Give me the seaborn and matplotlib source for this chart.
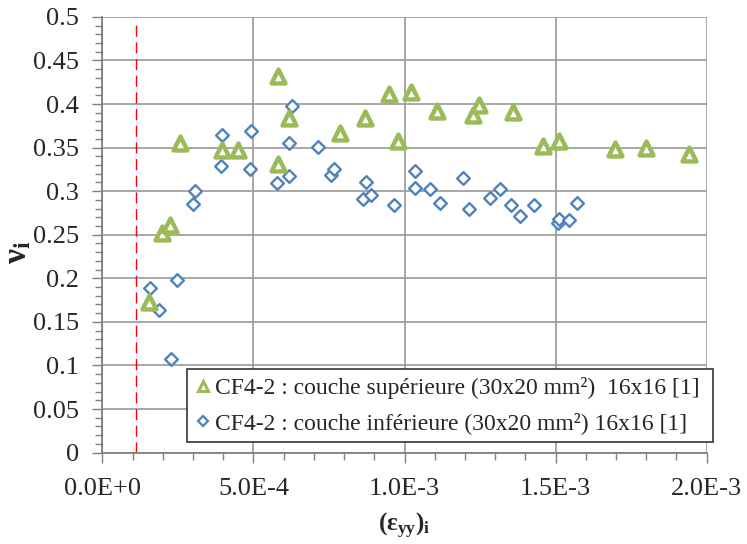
import matplotlib
matplotlib.use("Agg")
import matplotlib.pyplot as plt
import matplotlib.ticker as mticker
from matplotlib.lines import Line2D
import seaborn as sns
import pandas as pd

# --- data ---
sup_x = [1.56e-4, 1.99e-4, 2.25e-4, 2.58e-4, 3.97e-4, 4.50e-4, 5.83e-4, 5.83e-4,
         6.19e-4, 7.85e-4, 8.70e-4, 9.50e-4, 9.80e-4, 1.02e-3, 1.106e-3, 1.228e-3,
         1.245e-3, 1.36e-3, 1.46e-3, 1.51e-3, 1.695e-3, 1.80e-3, 1.94e-3]
sup_y = [0.173, 0.252, 0.261, 0.355, 0.347, 0.347, 0.432, 0.331,
         0.384, 0.367, 0.384, 0.411, 0.357, 0.414, 0.392, 0.387,
         0.399, 0.391, 0.352, 0.358, 0.348, 0.349, 0.343]

inf_x = [1.58e-4, 1.88e-4, 2.26e-4, 2.48e-4, 2.99e-4, 3.06e-4, 3.94e-4, 3.96e-4,
         4.88e-4, 4.92e-4, 5.78e-4, 6.17e-4, 6.19e-4, 6.29e-4, 7.13e-4, 7.58e-4,
         7.66e-4, 8.62e-4, 8.71e-4, 8.90e-4, 9.65e-4, 1.034e-3, 1.036e-3, 1.083e-3,
         1.117e-3, 1.195e-3, 1.214e-3, 1.284e-3, 1.316e-3, 1.354e-3, 1.382e-3, 1.429e-3,
         1.508e-3, 1.51e-3, 1.544e-3, 1.57e-3]
inf_y = [0.189, 0.164, 0.107, 0.198, 0.285, 0.300, 0.329, 0.365,
         0.325, 0.369, 0.309, 0.317, 0.355, 0.398, 0.351, 0.319,
         0.325, 0.291, 0.310, 0.296, 0.284, 0.304, 0.323, 0.302,
         0.286, 0.315, 0.280, 0.292, 0.303, 0.284, 0.272, 0.284,
         0.264, 0.268, 0.267, 0.286]

label_sup = "CF4-2 : couche supérieure (30x20 mm²)  16x16 [1]"
label_inf = "CF4-2 : couche inférieure (30x20 mm²) 16x16 [1]"

threshold_x = 1.1e-4
threshold_top = 0.492

x_ticks = [0, 5e-4, 1e-3, 1.5e-3, 2e-3]
x_ticklabels = ["0.0E+0", "5.0E-4", "1.0E-3", "1.5E-3", "2.0E-3"]
y_ticks = [0, 0.05, 0.1, 0.15, 0.2, 0.25, 0.3, 0.35, 0.4, 0.45, 0.5]
y_ticklabels = ["0", "0.05", "0.1", "0.15", "0.2", "0.25", "0.3", "0.35", "0.4", "0.45", "0.5"]

# --- style ---
sns.set_theme(style="white")
plt.rcParams["font.family"] = ["Liberation Serif", "DejaVu Serif"]
plt.rcParams["mathtext.fontset"] = "custom"
plt.rcParams["mathtext.rm"] = "Liberation Serif"
plt.rcParams["mathtext.bf"] = "Liberation Serif:bold"
plt.rcParams["mathtext.it"] = "Liberation Serif:italic"

fig = plt.figure(figsize=(7.47, 5.44), dpi=100)
ax = fig.add_axes([0.137, 0.168, 0.809, 0.801])

df_sup = pd.DataFrame({"x": sup_x, "y": sup_y})
df_inf = pd.DataFrame({"x": inf_x, "y": inf_y})

green = "#9BBB59"
blue = "#4F81BD"

ax.grid(True, color="#A0A0A0", linewidth=1.3)
ax.set_axisbelow(True)

ax.axvline(threshold_x, ymin=0, ymax=threshold_top / 0.5, color="red",
           linestyle=(0, (8, 4)), linewidth=1.0, zorder=2)

sns.scatterplot(data=df_sup, x="x", y="y", ax=ax, marker="^", s=100,
                facecolor="white", edgecolor=green, linewidth=3.2,
                legend=False, zorder=4)
sns.scatterplot(data=df_inf, x="x", y="y", ax=ax, marker="D", s=42,
                facecolor="white", edgecolor=blue, linewidth=1.7,
                legend=False, zorder=3)

ax.set_xlim(0, 2e-3)
ax.set_ylim(0, 0.5)
ax.set_xticks(x_ticks)
ax.set_xticklabels(x_ticklabels)
ax.set_yticks(y_ticks)
ax.set_yticklabels(y_ticklabels)
ax.xaxis.set_minor_locator(mticker.MultipleLocator(1e-4))
ax.yaxis.set_minor_locator(mticker.MultipleLocator(0.01))

ax.tick_params(axis="x", which="major", labelsize=19, length=7, width=1,
               color="#808080", direction="out", pad=11)
ax.tick_params(axis="y", which="major", labelsize=19, length=7, width=1,
               color="#808080", direction="out", pad=10)
ax.tick_params(axis="both", which="minor", length=5, width=1,
               color="#808080", direction="out")
ax.tick_params(bottom=True, left=True, which="both")

for s in ["top", "right"]:
    ax.spines[s].set_visible(False)
for s in ["left", "bottom"]:
    ax.spines[s].set_color("#808080")
    ax.spines[s].set_linewidth(1.3)

ax.set_xlabel("(ε$_{\\mathbf{yy}}$)$_{\\mathbf{i}}$", fontsize=18, fontweight="bold", labelpad=8)
ax.set_ylabel("ν$_{\\mathbf{i}}$", fontsize=24, fontweight="bold")
ax.yaxis.set_label_coords(-0.115, 0.46)

handles = [
    Line2D([], [], linestyle="none", marker="^", markersize=7.5,
           markerfacecolor="white", markeredgecolor=green, markeredgewidth=2.2),
    Line2D([], [], linestyle="none", marker="D", markersize=5.5,
           markerfacecolor="white", markeredgecolor=blue, markeredgewidth=1.6),
]
leg = ax.legend(handles, [label_sup, label_inf], loc="lower left",
                bbox_to_anchor=(0.250, 0.187, 0.705, 0.155),
                bbox_transform=fig.transFigure, mode="expand",
                fontsize=17, frameon=True, fancybox=False, borderaxespad=0,
                handletextpad=0.15, handlelength=0.7, labelspacing=0.55,
                borderpad=0.35)
leg.get_frame().set_edgecolor("#333333")
leg.get_frame().set_linewidth(1.2)
leg.get_frame().set_alpha(1)
leg.set_zorder(10)

fig.savefig("out.png", dpi=100)
